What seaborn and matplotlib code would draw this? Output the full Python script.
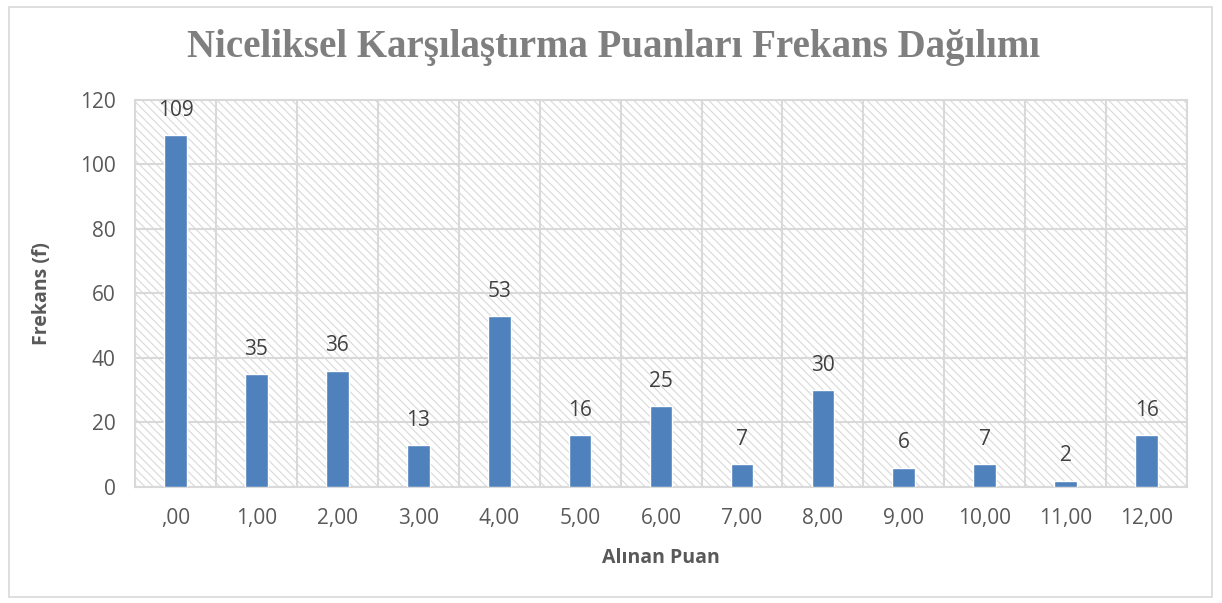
import matplotlib
matplotlib.use("Agg")
import matplotlib.pyplot as plt
import seaborn as sns
import pandas as pd
from matplotlib.patches import Rectangle

categories = [",00", "1,00", "2,00", "3,00", "4,00", "5,00", "6,00",
              "7,00", "8,00", "9,00", "10,00", "11,00", "12,00"]
frequencies = [109, 35, 36, 13, 53, 16, 25, 7, 30, 6, 7, 2, 16]
yticks = [0, 20, 40, 60, 80, 100, 120]

title = "Niceliksel Karşılaştırma Puanları Frekans Dağılımı"
xlabel = "Alınan Puan"
ylabel = "Frekans (f)"

df = pd.DataFrame({"puan": categories, "f": frequencies})

sns.set_theme(style="white")
plt.rcParams['font.family'] = ['Open Sans', 'DejaVu Sans']
plt.rcParams['hatch.color'] = '#D9D9D9'
plt.rcParams['hatch.linewidth'] = 0.8

fig = plt.figure(figsize=(12.22, 6.03), dpi=100)
ax = fig.add_axes([0.1105, 0.1924, 0.8609, 0.6418])

# figure border
fig.patches.append(Rectangle((0.007, 0.01), 0.985, 0.978, transform=fig.transFigure,
                             fill=False, edgecolor='#D9D9D9', linewidth=1.2))

# hatched plot area background
ax.add_patch(Rectangle((0, 0), 1, 1, transform=ax.transAxes, facecolor='white',
                       edgecolor='#D9D9D9', linewidth=0, hatch='\\\\\\\\', zorder=0))

sns.barplot(data=df, x="puan", y="f", color="#4F81BD", width=0.28,
            saturation=1, ax=ax, zorder=3)

ax.set_ylim(0, 120)
ax.set_xlim(-0.5, len(categories) - 0.5)
ax.set_yticks(yticks)

# vertical gridlines between categories
for i in range(len(categories) + 1):
    ax.axvline(i - 0.5, color='#D9D9D9', linewidth=1.5, zorder=1)
for y in yticks:
    ax.axhline(y, color='#D9D9D9', linewidth=1.5, zorder=1)

for s in ax.spines.values():
    s.set_visible(True)
    s.set_color('#D9D9D9')
    s.set_linewidth(1.5)

ax.tick_params(axis='both', length=0, labelsize=15, colors='#595959')
ax.tick_params(axis='y', pad=14)
ax.tick_params(axis='x', pad=15)

for i, v in enumerate(frequencies):
    ax.text(i, v + 4.5, str(v), ha='center', va='bottom', fontsize=15,
            color='#404040', zorder=4)

ax.set_xlabel(xlabel, fontsize=14, fontweight='bold', color='#595959', labelpad=14)
ax.set_ylabel(ylabel, fontsize=14, fontweight='bold', color='#595959', labelpad=20)

fig.text(0.502, 0.922, title, ha='center', va='center', fontsize=28,
         fontweight='bold', color='#7F7F7F', family=['Liberation Serif', 'DejaVu Serif'])

fig.savefig("out.png", dpi=100)
